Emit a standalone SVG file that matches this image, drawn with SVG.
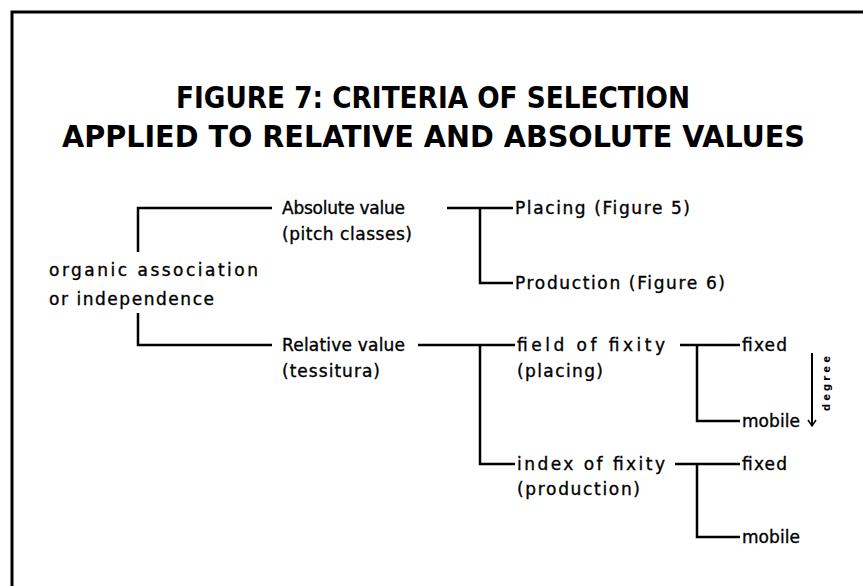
<svg xmlns="http://www.w3.org/2000/svg" width="863" height="586" viewBox="0 0 863 586">
<defs>
<style>
.t{font-family:"DejaVu Sans Condensed","DejaVu Sans",sans-serif;font-weight:bold;font-size:30px;fill:#000}
.b{font-family:"DejaVu Sans","Liberation Sans",sans-serif;font-size:17px;fill:#000;stroke:#000;stroke-width:0.35}
.c{fill:none;stroke:#000;stroke-width:2.5}
</style>
<marker id="ah" markerWidth="10" markerHeight="10" refX="8" refY="5" orient="auto" markerUnits="userSpaceOnUse" viewBox="0 0 10 10">
<path d="M2,1 L8,5 L2,9" fill="none" stroke="#000" stroke-width="1.5"/>
</marker>
</defs>
<rect width="863" height="586" fill="#fff"/>
<g id="frame">
<path d="M12,586 V12 H863" fill="none" stroke="#000" stroke-width="3"/>
</g>
<g id="title">
<text class="t" x="176" y="108" textLength="514" lengthAdjust="spacingAndGlyphs">FIGURE 7: CRITERIA OF SELECTION</text>
<text class="t" x="62" y="147" textLength="743" lengthAdjust="spacingAndGlyphs">APPLIED TO RELATIVE AND ABSOLUTE VALUES</text>
</g>
<g id="connectors">
<path class="c" d="M138,252 V208 H272"/>
<path class="c" d="M138,313 V345 H272"/>
<path class="c" d="M447,208 H513 M480,208 V283 H513"/>
<path class="c" d="M418,345 H515 M480,345 V464 H515"/>
<path class="c" d="M680,345 H740 M697,345 V421 H740"/>
<path class="c" d="M675,464 H740 M697,464 V537 H740"/>
<path d="M812,353 V426" fill="none" stroke="#000" stroke-width="2" marker-end="url(#ah)"/>
</g>
<g id="n-root">
<text class="b" x="49" y="276" textLength="209" lengthAdjust="spacing">organic association</text>
<text class="b" x="49" y="305" textLength="165" lengthAdjust="spacing">or independence</text>
</g>
<g id="n-absolute">
<text class="b" x="282" y="214" textLength="123" lengthAdjust="spacing">Absolute value</text>
<text class="b" x="282" y="240" textLength="130" lengthAdjust="spacing">(pitch classes)</text>
</g>
<g id="n-relative">
<text class="b" x="282" y="351" textLength="123" lengthAdjust="spacing">Relative value</text>
<text class="b" x="282" y="377" textLength="98" lengthAdjust="spacing">(tessitura)</text>
</g>
<g id="n-placing">
<text class="b" x="515" y="214" textLength="175" lengthAdjust="spacing">Placing (Figure 5)</text>
</g>
<g id="n-production">
<text class="b" x="515" y="289" textLength="210" lengthAdjust="spacing">Production (Figure 6)</text>
</g>
<g id="n-field">
<text class="b" x="517" y="351" textLength="148" lengthAdjust="spacing">field of fixity</text>
<text class="b" x="517" y="377" textLength="86" lengthAdjust="spacing">(placing)</text>
</g>
<g id="n-index">
<text class="b" x="517" y="470" textLength="148" lengthAdjust="spacing">index of fixity</text>
<text class="b" x="517" y="495" textLength="123" lengthAdjust="spacing">(production)</text>
</g>
<g id="n-fixed1"><text class="b" x="742" y="351" textLength="45" lengthAdjust="spacing">fixed</text></g>
<g id="n-mobile1"><text class="b" x="742" y="427" textLength="58" lengthAdjust="spacing">mobile</text></g>
<g id="n-fixed2"><text class="b" x="742" y="470" textLength="45" lengthAdjust="spacing">fixed</text></g>
<g id="n-mobile2"><text class="b" x="742" y="543" textLength="58" lengthAdjust="spacing">mobile</text></g>
<g id="n-degree">
<text x="0" y="0" transform="translate(830,411) rotate(-90)" font-family="DejaVu Sans, sans-serif" font-size="10" font-weight="bold" textLength="55" lengthAdjust="spacing">degree</text>
</g>
</svg>
